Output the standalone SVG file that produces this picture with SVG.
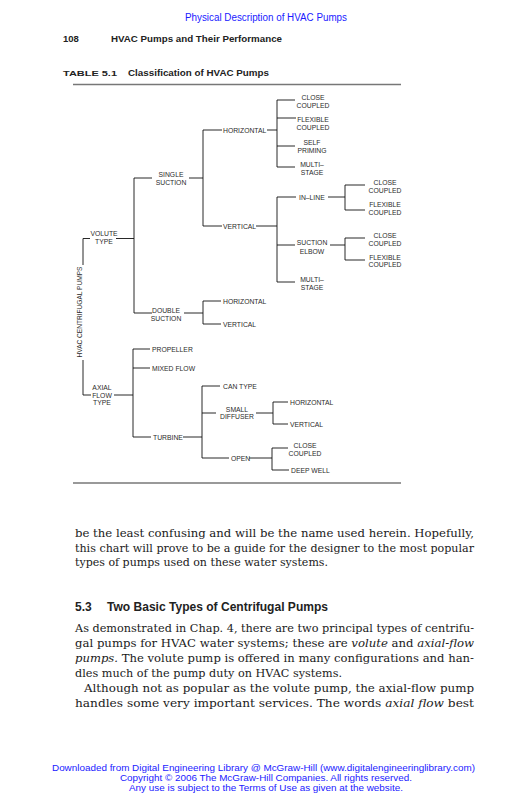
<svg xmlns="http://www.w3.org/2000/svg" width="531" height="800" viewBox="0 0 531 800">
<style>
.blue{font-family:"Liberation Sans",Arial,sans-serif;fill:#1a1aff}
.hd{font-family:"Liberation Sans",Arial,sans-serif;font-weight:bold;fill:#222}
.t{font-family:"Liberation Sans",Arial,sans-serif;font-size:6.8px;fill:#2a2a2a}
.c{text-anchor:middle}
.b{font-family:"DejaVu Serif","Liberation Serif",serif;font-size:10.6px;fill:#1a1a1a}
.i{font-style:italic}
.rule{stroke:#777;stroke-width:1.5}
#connectors line{stroke:#111;stroke-width:0.9}
</style>
<rect width="531" height="800" fill="#fff"/>
<text class="blue" x="185" y="21" font-size="10" textLength="162" lengthAdjust="spacingAndGlyphs">Physical Description of HVAC Pumps</text>
<text class="hd" x="63" y="42" font-size="9.5">108</text>
<text class="hd" x="111" y="42" font-size="9.5" textLength="171" lengthAdjust="spacingAndGlyphs">HVAC Pumps and Their Performance</text>
<text class="hd" x="63" y="76" font-size="7.5" textLength="54" lengthAdjust="spacingAndGlyphs">TABLE 5.1</text>
<text class="hd" x="128" y="76" font-size="9" textLength="141" lengthAdjust="spacingAndGlyphs">Classification of HVAC Pumps</text>
<line class="rule" x1="73" y1="84.5" x2="401" y2="84.5"/>
<line class="rule" x1="73" y1="483" x2="401" y2="483"/>

<g id="connectors">
<line x1="83" y1="238.5" x2="83" y2="265"/><line x1="83" y1="360" x2="83" y2="395"/>
<line x1="83" y1="238.5" x2="90" y2="238.5"/><line x1="83" y1="395" x2="91" y2="395"/>
<line x1="116" y1="238.5" x2="134" y2="238.5"/>
<line x1="134" y1="178" x2="134" y2="313"/>
<line x1="134" y1="178" x2="152" y2="178"/><line x1="189" y1="178" x2="203" y2="178"/>
<line x1="203" y1="130" x2="203" y2="226"/>
<line x1="203" y1="130" x2="222" y2="130"/><line x1="267" y1="130" x2="277" y2="130"/>
<line x1="277" y1="100" x2="277" y2="167"/>
<line x1="277" y1="100" x2="295" y2="100"/>
<line x1="277" y1="118" x2="296" y2="118"/>
<line x1="277" y1="146" x2="295" y2="146"/>
<line x1="277" y1="167" x2="295" y2="167"/>
<line x1="203" y1="226" x2="222" y2="226"/><line x1="256" y1="226" x2="277" y2="226"/>
<line x1="277" y1="197" x2="277" y2="282"/>
<line x1="277" y1="197" x2="296" y2="197"/><line x1="328" y1="197" x2="345" y2="197"/>
<line x1="345" y1="185" x2="345" y2="210"/>
<line x1="345" y1="185" x2="365" y2="185"/><line x1="345" y1="210" x2="365" y2="210"/>
<line x1="277" y1="245" x2="295" y2="245"/><line x1="330" y1="245" x2="345" y2="245"/>
<line x1="345" y1="238" x2="345" y2="260"/>
<line x1="345" y1="238" x2="365" y2="238"/><line x1="345" y1="260" x2="365" y2="260"/>
<line x1="277" y1="282" x2="295" y2="282"/>
<line x1="134" y1="313" x2="152" y2="313"/><line x1="184" y1="313" x2="203" y2="313"/>
<line x1="203" y1="301" x2="203" y2="324"/>
<line x1="203" y1="301" x2="221" y2="301"/><line x1="203" y1="324" x2="221" y2="324"/>
<line x1="114" y1="395" x2="133" y2="395"/>
<line x1="133" y1="349" x2="133" y2="437"/>
<line x1="133" y1="349" x2="150" y2="349"/><line x1="133" y1="368" x2="150" y2="368"/>
<line x1="133" y1="437" x2="151" y2="437"/><line x1="183" y1="437" x2="202" y2="437"/>
<line x1="202" y1="386" x2="202" y2="458"/>
<line x1="202" y1="386" x2="220" y2="386"/>
<line x1="202" y1="413" x2="216" y2="413"/><line x1="256" y1="413" x2="273" y2="413"/>
<line x1="273" y1="402" x2="273" y2="424"/>
<line x1="273" y1="402" x2="288" y2="402"/><line x1="273" y1="424" x2="288" y2="424"/>
<line x1="202" y1="458" x2="229" y2="458"/><line x1="249" y1="458" x2="272" y2="458"/>
<line x1="272" y1="448" x2="272" y2="470"/>
<line x1="272" y1="448" x2="288" y2="448"/><line x1="272" y1="470" x2="289" y2="470"/>
</g>

<g id="n-root"><text class="t c" transform="translate(81.5,312) rotate(-90)" textLength="91" lengthAdjust="spacingAndGlyphs">HVAC  CENTRIFUGAL  PUMPS</text></g>
<g id="n-volute"><text class="t c" x="104" y="236">VOLUTE</text><text class="t c" x="104" y="244">TYPE</text></g>
<g id="n-single"><text class="t c" x="171" y="176.5">SINGLE</text><text class="t c" x="171" y="184.5">SUCTION</text></g>
<g id="n-s-horiz"><text class="t" x="223" y="132.5">HORIZONTAL</text></g>
<g id="n-s-h-close"><text class="t c" x="313" y="99.5">CLOSE</text><text class="t c" x="313" y="107.5">COUPLED</text></g>
<g id="n-s-h-flex"><text class="t c" x="313" y="121.5">FLEXIBLE</text><text class="t c" x="313" y="130">COUPLED</text></g>
<g id="n-s-h-self"><text class="t c" x="312" y="144.5">SELF</text><text class="t c" x="312" y="152.5">PRIMING</text></g>
<g id="n-s-h-multi"><text class="t c" x="312" y="166.5">MULTI–</text><text class="t c" x="312" y="175">STAGE</text></g>
<g id="n-s-vert"><text class="t" x="223" y="228.5">VERTICAL</text></g>
<g id="n-inline"><text class="t" x="299" y="199.5">IN–LINE</text></g>
<g id="n-il-close"><text class="t c" x="385" y="184.5">CLOSE</text><text class="t c" x="385" y="193">COUPLED</text></g>
<g id="n-il-flex"><text class="t c" x="385" y="206.5">FLEXIBLE</text><text class="t c" x="385" y="215">COUPLED</text></g>
<g id="n-elbow"><text class="t c" x="312" y="245">SUCTION</text><text class="t c" x="312" y="253.5">ELBOW</text></g>
<g id="n-el-close"><text class="t c" x="385" y="237.5">CLOSE</text><text class="t c" x="385" y="245.5">COUPLED</text></g>
<g id="n-el-flex"><text class="t c" x="385" y="259.5">FLEXIBLE</text><text class="t c" x="385" y="267">COUPLED</text></g>
<g id="n-v-multi"><text class="t c" x="312" y="282">MULTI–</text><text class="t c" x="312" y="289.5">STAGE</text></g>
<g id="n-double"><text class="t c" x="166" y="312.5">DOUBLE</text><text class="t c" x="166" y="320.5">SUCTION</text></g>
<g id="n-d-horiz"><text class="t" x="223" y="303.5">HORIZONTAL</text></g>
<g id="n-d-vert"><text class="t" x="223" y="326.5">VERTICAL</text></g>
<g id="n-axial"><text class="t c" x="102" y="389.5">AXIAL</text><text class="t c" x="102" y="397.5">FLOW</text><text class="t c" x="102" y="405">TYPE</text></g>
<g id="n-prop"><text class="t" x="152" y="351.5">PROPELLER</text></g>
<g id="n-mixed"><text class="t" x="152" y="370.5">MIXED  FLOW</text></g>
<g id="n-turbine"><text class="t" x="153" y="439.5">TURBINE</text></g>
<g id="n-can"><text class="t" x="223" y="388.5">CAN  TYPE</text></g>
<g id="n-diffuser"><text class="t c" x="237" y="411.5">SMALL</text><text class="t c" x="237" y="418.5">DIFFUSER</text></g>
<g id="n-df-horiz"><text class="t" x="290" y="404.5">HORIZONTAL</text></g>
<g id="n-df-vert"><text class="t" x="290" y="426.5">VERTICAL</text></g>
<g id="n-open"><text class="t" x="231" y="460.5">OPEN</text></g>
<g id="n-op-close"><text class="t c" x="305" y="447.5">CLOSE</text><text class="t c" x="305" y="455.5">COUPLED</text></g>
<g id="n-op-deep"><text class="t" x="291" y="472.5">DEEP  WELL</text></g>

<text class="b" x="75" y="537" textLength="399" lengthAdjust="spacingAndGlyphs">be the least confusing and will be the name used herein. Hopefully,</text>
<text class="b" x="75" y="551.5" textLength="399" lengthAdjust="spacingAndGlyphs">this chart will prove to be a guide for the designer to the most popular</text>
<text class="b" x="75" y="566" textLength="253" lengthAdjust="spacingAndGlyphs">types of pumps used on these water systems.</text>
<text class="hd" x="75" y="611" font-size="12">5.3</text>
<text class="hd" x="107" y="611" font-size="12" textLength="221" lengthAdjust="spacingAndGlyphs">Two Basic Types of Centrifugal Pumps</text>
<text class="b" x="75" y="632" textLength="399" lengthAdjust="spacingAndGlyphs">As demonstrated in Chap. 4, there are two principal types of centrifu-</text>
<text class="b" x="75" y="647" textLength="399" lengthAdjust="spacingAndGlyphs">gal pumps for HVAC water systems; these are <tspan class="i">volute</tspan> and <tspan class="i">axial-flow</tspan></text>
<text class="b" x="75" y="662" textLength="399" lengthAdjust="spacingAndGlyphs"><tspan class="i">pumps.</tspan> The volute pump is offered in many configurations and han-</text>
<text class="b" x="75" y="677" textLength="267" lengthAdjust="spacingAndGlyphs">dles much of the pump duty on HVAC systems.</text>
<text class="b" x="84" y="692" textLength="390" lengthAdjust="spacingAndGlyphs">Although not as popular as the volute pump, the axial-flow pump</text>
<text class="b" x="75" y="707" textLength="399" lengthAdjust="spacingAndGlyphs">handles some very important services. The words <tspan class="i">axial flow</tspan> best</text>

<text class="blue" x="52" y="771" font-size="9.5" textLength="423" lengthAdjust="spacingAndGlyphs">Downloaded from Digital Engineering Library @ McGraw-Hill (www.digitalengineeringlibrary.com)</text>
<text class="blue" x="120" y="781" font-size="9.5" textLength="292" lengthAdjust="spacingAndGlyphs">Copyright © 2006 The McGraw-Hill Companies. All rights reserved.</text>
<text class="blue" x="129" y="791" font-size="9.5" textLength="274" lengthAdjust="spacingAndGlyphs">Any use is subject to the Terms of Use as given at the website.</text>
</svg>
